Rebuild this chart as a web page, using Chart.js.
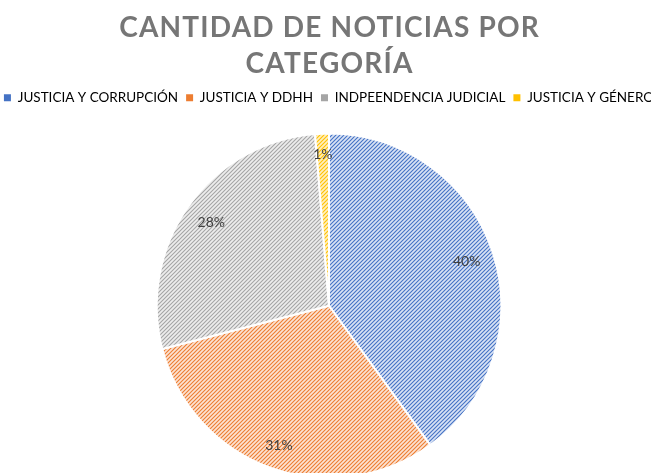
<!DOCTYPE html>
<html>
<head>
<meta charset="utf-8">
<script src="https://cdn.jsdelivr.net/npm/chart.js@4.4.0/dist/chart.umd.min.js"></script>
<style>
    html, body {margin:0; padding:0; overflow:hidden; background:#fff;}
    #wrap {width:720px; height:490px; margin-left:-33px;}
</style>
</head>
<body>
<div id="wrap"><canvas id="c"></canvas></div>
<script>
const titleLines = ["CANTIDAD DE NOTICIAS POR", "CATEGORÍA"];
const categories = ["JUSTICIA Y CORRUPCIÓN", "JUSTICIA Y DDHH", "INDPEENDENCIA JUDICIAL", "JUSTICIA Y GÉNERO"];
const counts = [62, 48, 43, 2];
const lineColors = ["#4472C4", "#ED7D31", "#A5A5A5", "#FFC000"];
const fillColors = ["#dae3f5", "#fce3d3", "#ededed", "#fff0c0"];

// diagonal hatch like the excel "wide upward diagonal" fill
function hatch(bg, fg) {
    let s = 4;
    let c = document.createElement("canvas");
    c.width = s; c.height = s;
    let x = c.getContext("2d");
    x.fillStyle = bg;
    x.fillRect(0, 0, s, s);
    x.strokeStyle = fg;
    x.lineWidth = 1.1;
    x.beginPath();
    x.moveTo(-1, s + 1); x.lineTo(s + 1, -1);
    x.moveTo(-1, 1); x.lineTo(1, -1);
    x.moveTo(s - 1, s + 1); x.lineTo(s + 1, s - 1);
    x.stroke();
    return x.createPattern(c, "repeat");
}

const total = counts.reduce((a, b) => a + b, 0);

const spacedTitle = {
    id: "spacedTitle",
    beforeInit(chart) {
        // extra gap under the legend
        const fit = chart.legend.fit;
        chart.legend.fit = function () {
            fit.bind(chart.legend)();
            this.height += 18;
        };
    },
    afterDraw(chart) {
        const {ctx, chartArea} = chart;
        const cx = (chartArea.left + chartArea.right) / 2;
        ctx.save();
        ctx.font = "bold 28px Lato";
        ctx.fillStyle = "#767676";
        ctx.textAlign = "center";
        ctx.textBaseline = "middle";
        ctx.letterSpacing = "1.2px";
        titleLines.forEach((t, i) => ctx.fillText(t, cx + 0.6, 28 + 36 * i));
        ctx.restore();
    }
};

// percentage labels at "inside end"
const pctLabels = {
    id: "pctLabels",
    afterDatasetsDraw(chart) {
        const {ctx} = chart;
        const meta = chart.getDatasetMeta(0);
        ctx.save();
        ctx.font = "14px Lato";
        ctx.fillStyle = "#404040";
        ctx.textAlign = "center";
        ctx.textBaseline = "middle";
        meta.data.forEach((arc, i) => {
            const p = arc.getProps(["x", "y", "startAngle", "endAngle", "outerRadius"], true);
            const mid = (p.startAngle + p.endAngle) / 2;
            const txt = Math.round(counts[i] / total * 100) + "%";
            const w = ctx.measureText(txt).width;
            const ext = Math.abs(Math.cos(mid)) * w / 2 + Math.abs(Math.sin(mid)) * 8;
            const r = p.outerRadius - 12 - ext;
            ctx.fillText(txt, p.x + Math.cos(mid) * r, p.y + Math.sin(mid) * r);
        });
        ctx.restore();
    }
};

new Chart(document.getElementById("c").getContext("2d"), {
    type: "pie",
    data: {
        labels: categories,
        datasets: [{
            data: counts,
            backgroundColor: fillColors.map((f, i) => hatch(f, lineColors[i])),
            borderColor: "#ffffff",
            borderWidth: 2
        }]
    },
    options: {
        responsive: true,
        maintainAspectRatio: false,
        animation: false,
        layout: {padding: {top: 83, right: 0, bottom: 11, left: 4}},
        plugins: {
            title: {display: false},
            tooltip: {enabled: false},
            legend: {
                position: "top",
                labels: {
                    boxWidth: 7,
                    boxHeight: 7,
                    padding: 8,
                    color: "#595959",
                    font: {family: "Lato", size: 13.5},
                    generateLabels(chart) {
                        return categories.map((c, i) => ({
                            text: c,
                            fillStyle: lineColors[i],
                            strokeStyle: lineColors[i],
                            lineWidth: 0,
                            index: i,
                            hidden: false
                        }));
                    }
                }
            }
        }
    },
    plugins: [spacedTitle, pctLabels]
});
</script>
</body>
</html>
